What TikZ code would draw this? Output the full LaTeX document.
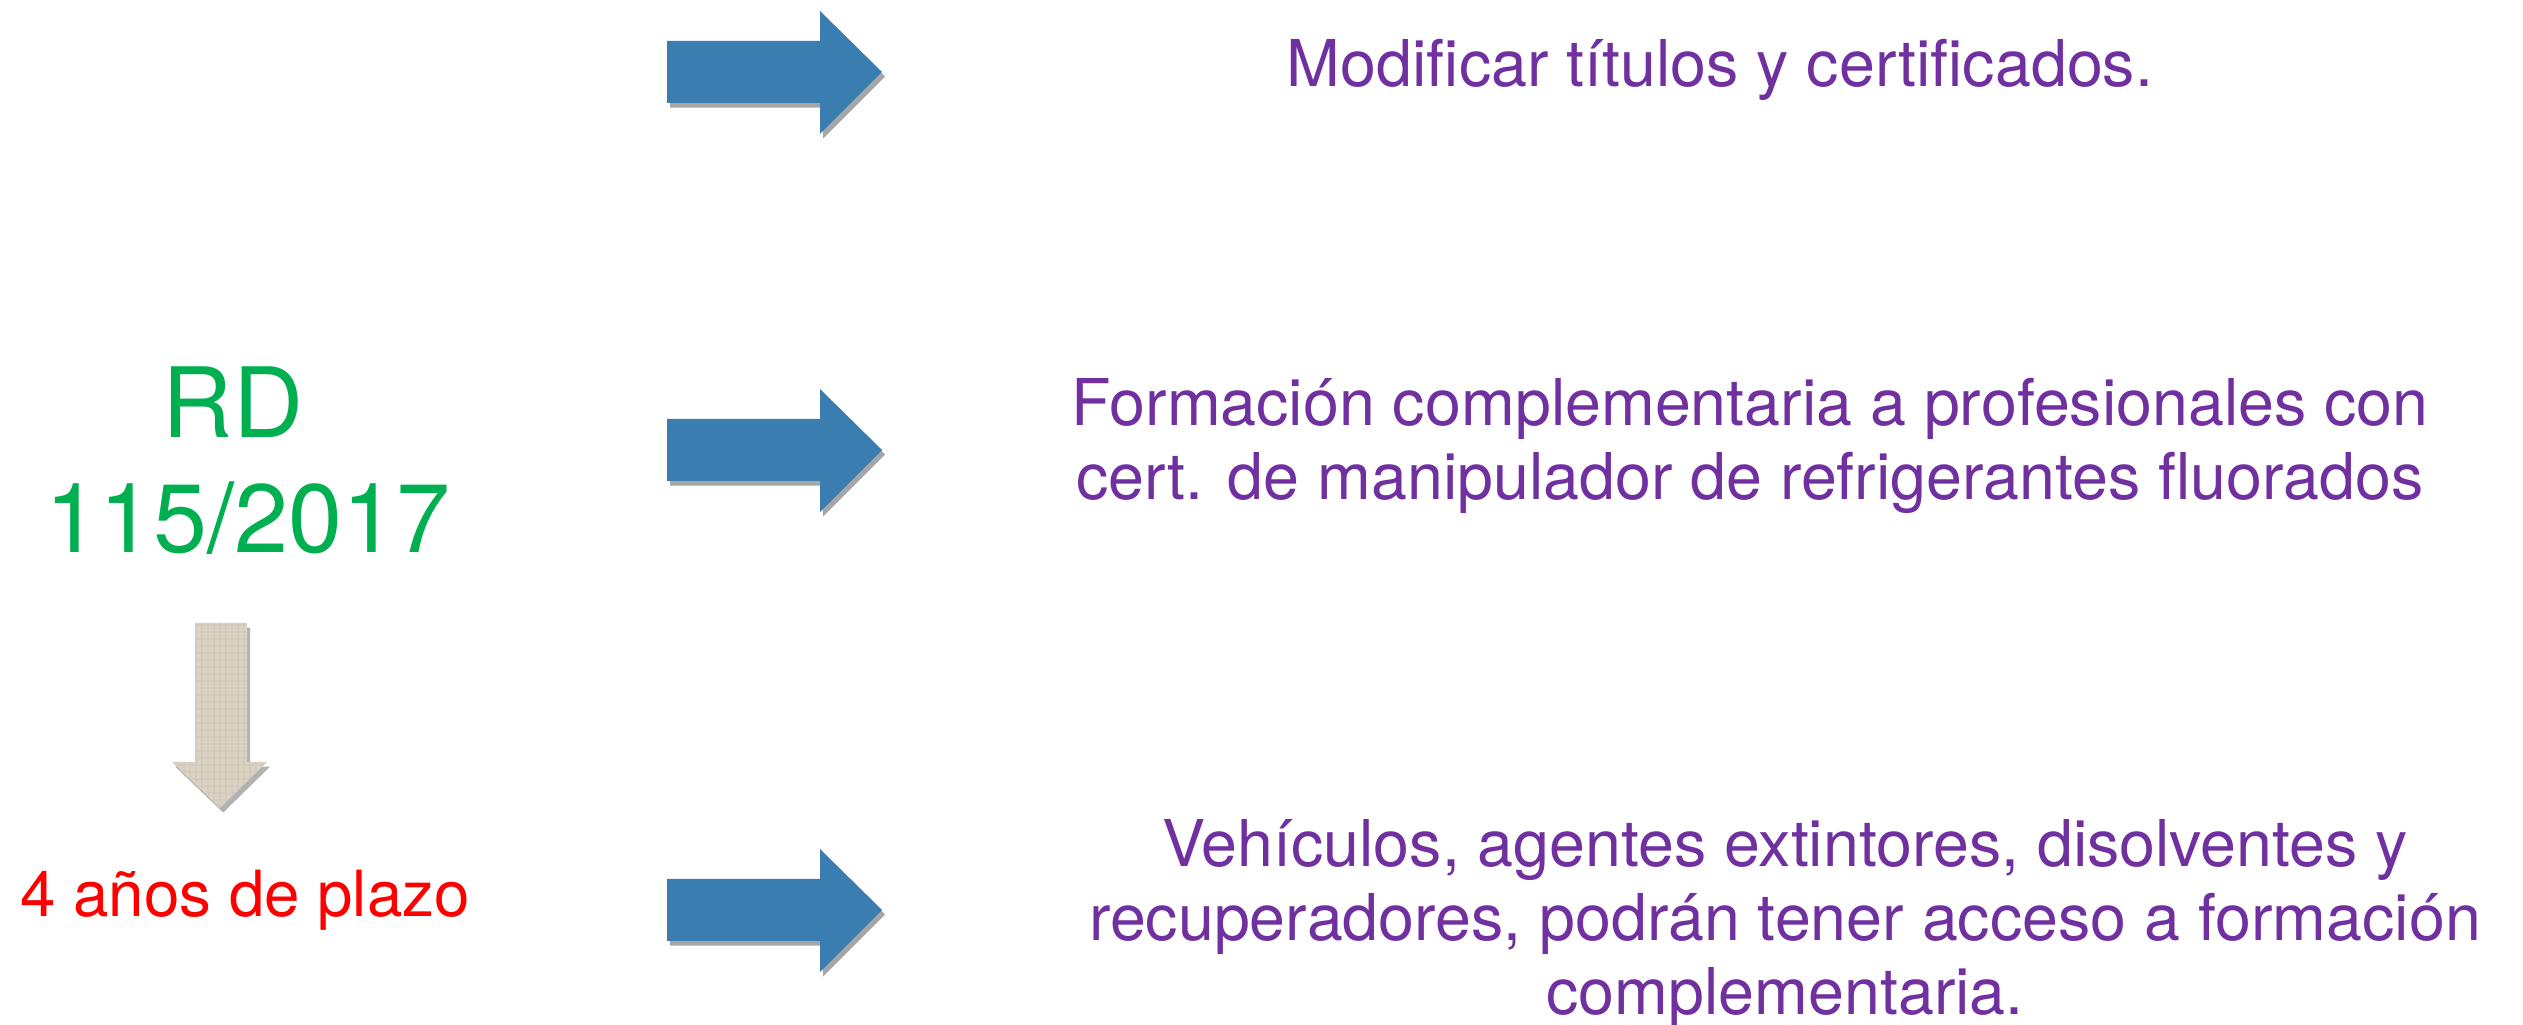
\documentclass[tikz,border=0pt]{standalone}
\usepackage{fontspec}
\setmainfont{TeX Gyre Heros}
\usetikzlibrary{shadows}
\definecolor{arrblue}{HTML}{3A7DB0}
\definecolor{rdgreen}{HTML}{00B050}
\definecolor{txtpurple}{HTML}{7030A0}
\definecolor{beige}{HTML}{DCD2C0}
\begin{document}
\begin{tikzpicture}[x=0.01cm,y=-0.01cm,
  bluearrow/.style={fill=arrblue, draw=none, drop shadow={shadow xshift=0.9pt, shadow yshift=-1.3pt, opacity=0.35, fill=black}},
  beigearrow/.style={fill=beige, draw=none, drop shadow={shadow xshift=0.9pt, shadow yshift=-1.3pt, opacity=0.3, fill=black}},
  purpletext/.style={text=txtpurple, font=\fontsize{18.35}{21.05}\selectfont, align=center, inner sep=0pt, anchor=base},
  greentext/.style={text=rdgreen, font=\fontsize{27.6}{32.7}\selectfont, inner sep=0pt, anchor=base},
  redtext/.style={text=red, font=\fontsize{18.1}{21}\selectfont, inner sep=0pt, anchor=base}]
\useasboundingbox[fill=white] (0,0) rectangle (2523,1025);
% blue arrows
\foreach \c in {72,450,910}{
  \path[bluearrow] (667,\c-31) -- (820,\c-31) -- (820,\c-61) -- (882,\c) -- (820,\c+62) -- (820,\c+31) -- (667,\c+31) -- cycle;
}
% down arrow
\path[beigearrow] (195,623) -- (247,623) -- (247,762) -- (267,762) -- (220,808) -- (172,762) -- (195,762) -- cycle;
\begin{scope}
\clip (195,623) -- (247,623) -- (247,762) -- (267,762) -- (220,808) -- (172,762) -- (195,762) -- cycle;
\foreach \xx in {172,178,...,268}{\draw[white!70!beige!80!black, opacity=0.35, line width=0.3pt] (\xx,620) -- (\xx,810);}
\foreach \yy in {625,632,...,808}{\draw[white!70!beige!80!black, opacity=0.3, line width=0.3pt] (170,\yy) -- (270,\yy);}
\end{scope}
% texts
\node[greentext] (rd) at (233,438) {RD};
\node[greentext] (num) at (248,553) {115/2017};
\node[redtext] (plazo) at (245,917) {4 años de plazo};
\node[purpletext] (t1) at (1720,87) {Modificar títulos y certificados.};
\node[purpletext] (t2) at (1750,500) {Formación complementaria a profesionales con\\cert. de manipulador de refrigerantes fluorados};
\node[purpletext] (t3) at (1785,1015) {Vehículos, agentes extintores, disolventes y\\recuperadores, podrán tener acceso a formación\\complementaria.};
\end{tikzpicture}
\end{document}
